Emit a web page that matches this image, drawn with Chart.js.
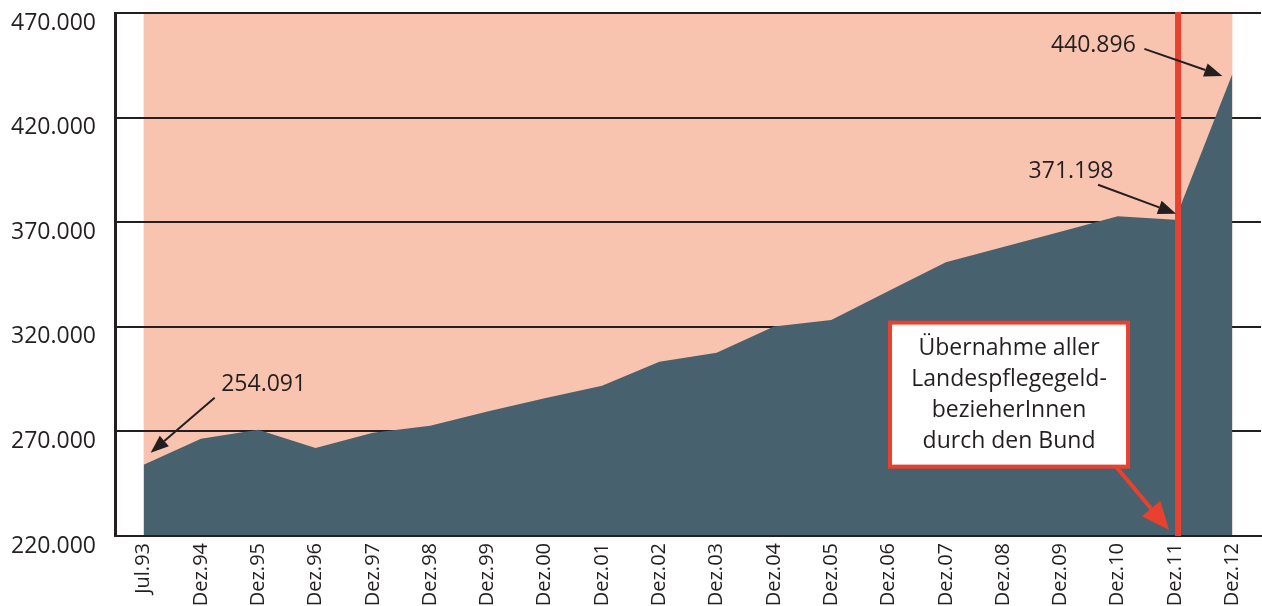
<!DOCTYPE html>
<html>
<head>
<meta charset="utf-8">
<script src="https://cdn.jsdelivr.net/npm/chart.js@4"></script>
<style>
  body { margin: 0; background: #fff; }
  #wrap { width: 1262px; height: 606px; position: relative; }
</style>
</head>
<body>
<div id="wrap"><canvas id="pflegeChart"></canvas></div>
<script>
// Pflegegeld-BezieherInnen, Stichtage
var categories = ['Jul.93', 'Dez.94', 'Dez.95', 'Dez.96', 'Dez.97', 'Dez.98', 'Dez.99', 'Dez.00', 'Dez.01', 'Dez.02',
                  'Dez.03', 'Dez.04', 'Dez.05', 'Dez.06', 'Dez.07', 'Dez.08', 'Dez.09', 'Dez.10', 'Dez.11', 'Dez.12'];
var recipients = [254091, 266500, 270800, 262100, 269300, 272700, 279500, 285900, 291800, 303300,
                  307600, 320100, 323300, 337100, 350900, 358200, 365400, 372800, 371198, 440896];
var yTicks = [220000, 270000, 320000, 370000, 420000, 470000];

// labelled points: index into categories
var callouts = [0, 18, 19];
var markerIndex = 18;
var noteLines = ['Übernahme aller', 'Landespflegegeld-', 'bezieherInnen', 'durch den Bund'];

var SALMON = '#f9c4af';
var SLATE = '#47616e';
var RED = '#e8412f';
var INK = '#231f20';
var FONT = '"Open Sans", "DejaVu Sans", sans-serif';

function fmt(v) {
    return v.toString().replace(/\B(?=(\d{3})+(?!\d))/g, '.');
}

function arrow(ctx, x1, y1, x2, y2, color, lw, headLen, headW) {
    var ang = Math.atan2(y2 - y1, x2 - x1);
    var bx = x2 - Math.cos(ang) * headLen, by = y2 - Math.sin(ang) * headLen;
    ctx.save();
    ctx.strokeStyle = color;
    ctx.fillStyle = color;
    ctx.lineWidth = lw;
    ctx.beginPath();
    ctx.moveTo(x1, y1);
    ctx.lineTo(bx, by);
    ctx.stroke();
    ctx.beginPath();
    ctx.moveTo(x2, y2);
    ctx.lineTo(bx + Math.sin(ang) * headW / 2, by - Math.cos(ang) * headW / 2);
    ctx.lineTo(bx - Math.sin(ang) * headW / 2, by + Math.cos(ang) * headW / 2);
    ctx.closePath();
    ctx.fill();
    ctx.restore();
}

// salmon backdrop between first and last category
var backdrop = {
    id: 'backdrop',
    beforeDraw: function(chart) {
        var ctx = chart.ctx, a = chart.chartArea, x = chart.scales.x;
        var x0 = x.getPixelForValue(0), x1 = x.getPixelForValue(categories.length - 1);
        ctx.save();
        ctx.fillStyle = SALMON;
        ctx.fillRect(x0, a.top, x1 - x0, a.bottom - a.top);
        ctx.restore();
    }
};

// red marker line, note box and value callouts
var notes = {
    id: 'notes',
    afterDraw: function(chart) {
        var ctx = chart.ctx, a = chart.chartArea, xs = chart.scales.x, ys = chart.scales.y;
        var mx = xs.getPixelForValue(markerIndex) + 3;

        ctx.save();
        ctx.fillStyle = RED;
        ctx.fillRect(mx - 3, a.top - 1, 6, a.bottom - a.top + 1);

        // value callouts
        ctx.font = '23px ' + FONT;
        ctx.fillStyle = INK;
        ctx.textAlign = 'center';
        ctx.textBaseline = 'middle';
        var offs = [
            { tx: 120, ty: -80, ax: 71, ay: -67, bx: 7, by: -12 },
            { tx: -104, ty: -48, ax: -77, ay: -35, bx: 1, by: -6 },
            { tx: -139, ty: -28, ax: -88, ay: -25, bx: -10, by: 2 }
        ];
        callouts.forEach(function(idx, i) {
            var px = xs.getPixelForValue(idx), py = ys.getPixelForValue(recipients[idx]);
            var o = offs[i];
            ctx.fillText(fmt(recipients[idx]), px + o.tx, py + o.ty);
            arrow(ctx, px + o.ax, py + o.ay, px + o.bx, py + o.by, INK, 2, 18, 14);
        });

        // note box
        var bx0 = mx - 288, bx1 = mx - 50;
        var by0 = ys.getPixelForValue(322000), by1 = by0 + 144;
        ctx.fillStyle = '#fff';
        ctx.fillRect(bx0, by0, bx1 - bx0, by1 - by0);
        ctx.strokeStyle = RED;
        ctx.lineWidth = 4;
        ctx.strokeRect(bx0, by0, bx1 - bx0, by1 - by0);
        ctx.fillStyle = INK;
        ctx.font = '23px ' + FONT;
        noteLines.forEach(function(t, i) {
            ctx.fillText(t, (bx0 + bx1) / 2, by0 + 26 + i * 31);
        });
        arrow(ctx, bx1 - 12, by1, mx - 9, a.bottom - 6, RED, 4, 28, 24);
        ctx.restore();
    }
};

var ctx = document.getElementById('pflegeChart').getContext('2d');
var pflegeChart = new Chart(ctx, {
    type: 'line',
    data: {
        labels: categories,
        datasets: [{
            label: 'PflegegeldbezieherInnen',
            data: recipients,
            fill: 'start',
            backgroundColor: SLATE,
            borderWidth: 0,
            pointRadius: 0,
            tension: 0
        }]
    },
    options: {
        responsive: true,
        maintainAspectRatio: false,
        animation: false,
        layout: { padding: { top: 13, right: 1, left: 0, bottom: 0 } },
        scales: {
            x: {
                offset: true,
                grid: { display: false, drawTicks: false },
                border: { display: true, color: INK, width: 2, z: 1 },
                ticks: {
                    autoSkip: false,
                    minRotation: 90,
                    maxRotation: 90,
                    padding: 7,
                    color: INK,
                    font: { family: FONT, size: 20 }
                },
                afterFit: function(scale) {
                    scale.height = 70;
                    scale.paddingLeft = 0;
                    scale.paddingRight = 0;
                }
            },
            y: {
                min: yTicks[0],
                max: yTicks[yTicks.length - 1],
                afterBuildTicks: function(scale) {
                    scale.ticks = yTicks.map(function(v) { return { value: v }; });
                },
                grid: { color: INK, lineWidth: 2, drawTicks: false },
                border: { display: true, color: INK, width: 3 },
                ticks: {
                    padding: 19,
                    labelOffset: 10,
                    color: INK,
                    font: { family: FONT, size: 23 },
                    callback: function(v) { return fmt(v); }
                },
                afterFit: function(scale) {
                    scale.width = 115;
                    scale.paddingTop = 0;
                    scale.paddingBottom = 0;
                }
            }
        },
        plugins: {
            legend: { display: false },
            tooltip: { enabled: false }
        }
    },
    plugins: [backdrop, notes]
});
</script>
</body>
</html>
